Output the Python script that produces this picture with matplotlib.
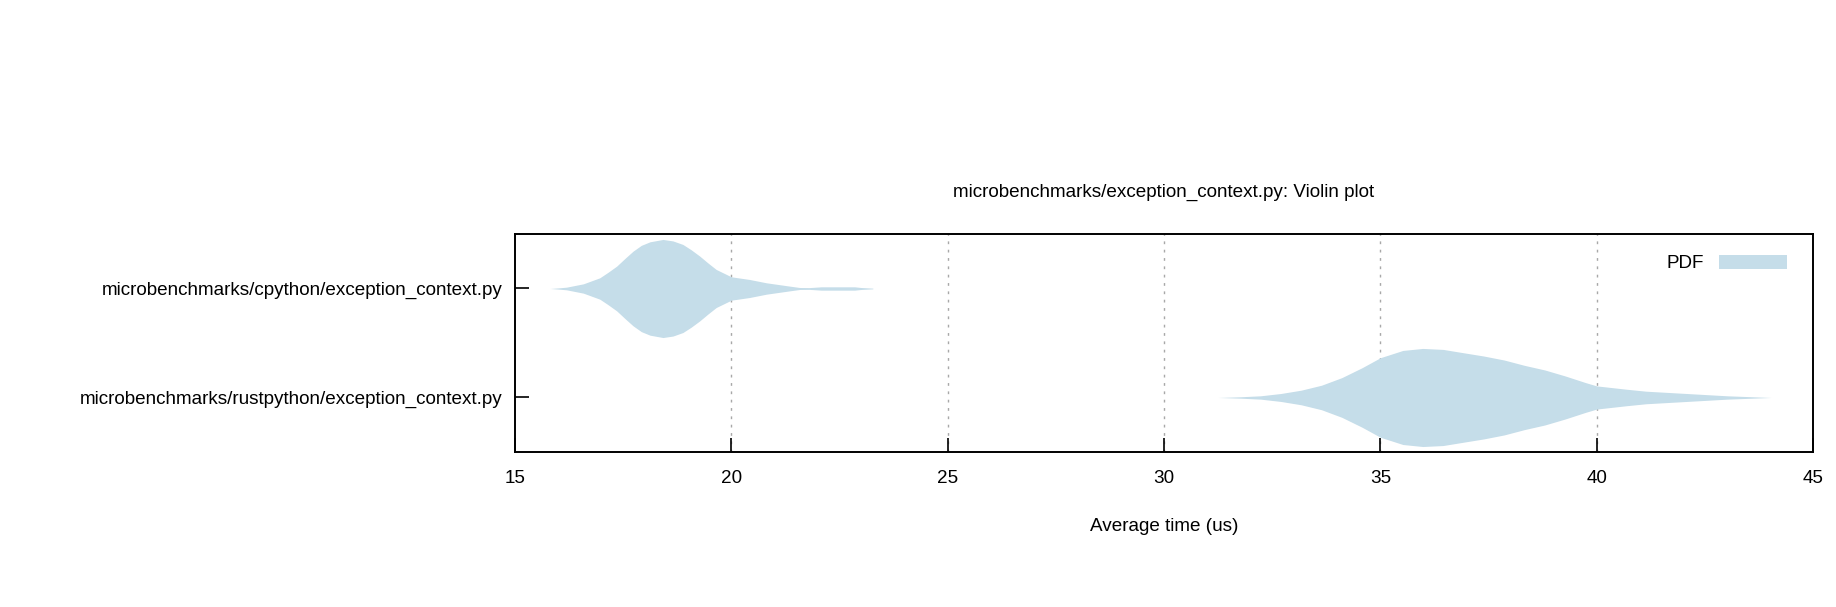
import matplotlib.pyplot as plt
from matplotlib.patches import Patch

plt.rcParams['font.family'] = ['Liberation Sans', 'DejaVu Sans']

title = "microbenchmarks/exception_context.py: Violin plot"
categories = ["microbenchmarks/cpython/exception_context.py",
              "microbenchmarks/rustpython/exception_context.py"]

# density profiles (relative height, peak = 1)
cpython_x = [15.81, 16.0, 16.19, 16.58, 16.96, 17.15, 17.35, 17.55, 17.73, 17.92, 18.12,
             18.42, 18.65, 18.88, 19.07, 19.27, 19.46, 19.65, 20.0, 20.42, 20.81, 21.35,
             21.58, 21.8, 22.08, 22.85, 23.0, 23.27]
cpython_pdf = [0.0, 0.012, 0.027, 0.095, 0.218, 0.33, 0.456, 0.62, 0.762, 0.88, 0.952,
               1.0, 0.97, 0.898, 0.79, 0.66, 0.52, 0.388, 0.238, 0.184, 0.116, 0.048,
               0.02, 0.018, 0.034, 0.034, 0.02, 0.007]

rust_x = [31.25, 31.76, 32.23, 32.70, 33.17, 33.64, 34.11, 34.58, 35.0, 35.52,
          35.98, 36.45, 36.92, 37.39, 37.86, 38.33, 38.80, 39.27, 39.74, 40.0,
          40.68, 41.14, 42.08, 43.02, 44.03]
rust_pdf = [0.0, 0.014, 0.034, 0.081, 0.149, 0.25, 0.405, 0.608, 0.811, 0.959,
            1.0, 0.98, 0.912, 0.845, 0.764, 0.655, 0.561, 0.439, 0.304, 0.236,
            0.169, 0.128, 0.081, 0.034, 0.0]

xticks = [15, 20, 25, 30, 35, 40, 45]
fill = '#c5dde9'
half = 0.45
fs = 13.6

fig = plt.figure(figsize=(18.36, 6.07), dpi=100)
ax = fig.add_axes([0.2805, 0.2554, 0.7070, 0.3591])

for pos, xs, ds in [(0, cpython_x, cpython_pdf), (1, rust_x, rust_pdf)]:
    lo = [pos - half * d for d in ds]
    hi = [pos + half * d for d in ds]
    ax.fill_between(xs, lo, hi, color=fill, linewidth=0, zorder=2)

for xv in xticks[1:-1]:
    ax.axvline(xv, color='#a8a8a8', linewidth=1, linestyle=(0, (2, 4)), zorder=1)

ax.set_xlim(15, 45)
ax.set_ylim(1.5, -0.5)
ax.set_xticks(xticks)
ax.set_yticks([0, 1])
ax.set_yticklabels(categories)
ax.tick_params(axis='both', direction='in', length=10, width=1.2, labelsize=fs,
               top=False, right=False, pad=9)
ax.tick_params(axis='x', pad=13)
for sp in ax.spines.values():
    sp.set_linewidth(1.4)

ax.set_title(title, fontsize=fs, pad=27)
ax.set_xlabel("Average time (us)", fontsize=fs, labelpad=22)

ax.legend(handles=[Patch(facecolor=fill, edgecolor='none', label='PDF')],
          loc='upper right', bbox_to_anchor=(0.98, 0.905), frameon=False,
          markerfirst=False, borderpad=0, borderaxespad=0,
          handlelength=3.6, handleheight=0.75, handletextpad=0.8, fontsize=fs)

fig.savefig("out.png", dpi=100)
